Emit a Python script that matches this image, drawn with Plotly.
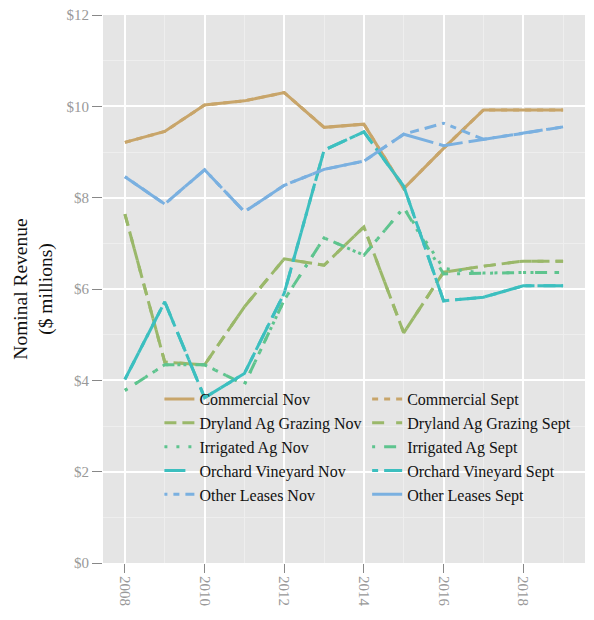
import plotly.graph_objects as go

years = list(range(2008, 2020))

commercial_nov = [9.21, 9.45, 10.03, 10.12, 10.30, 9.54, 9.61, 8.20, 9.08, 9.92, 9.92, 9.92]
commercial_sept = [9.21, 9.45, 10.03, 10.12, 10.30, 9.54, 9.61, 8.20, 9.08, 9.92, 9.92, 9.92]
dryland_nov = [7.64, 4.40, 4.34, 5.61, 6.66, 6.52, 7.36, 5.04, 6.37, 6.50, 6.61, 6.61]
dryland_sept = [7.64, 4.40, 4.34, 5.61, 6.66, 6.52, 7.36, 5.04, 6.37, 6.50, 6.61, 6.61]
irrigated_nov = [3.78, 4.34, 4.34, 3.91, 5.76, 7.12, 6.74, 7.78, 6.45, 6.35, 6.36, 6.36]
irrigated_sept = [3.78, 4.34, 4.34, 3.91, 5.76, 7.12, 6.74, 7.78, 6.33, 6.35, 6.36, 6.36]
orchard_nov = [4.02, 5.72, 3.62, 4.15, 5.91, 9.04, 9.44, 8.25, 5.74, 5.82, 6.07, 6.07]
orchard_sept = [4.02, 5.72, 3.62, 4.15, 5.91, 9.04, 9.44, 8.25, 5.74, 5.82, 6.07, 6.07]
other_nov = [8.46, 7.86, 8.61, 7.69, 8.27, 8.62, 8.80, 9.39, 9.63, 9.28, 9.41, 9.55]
other_sept = [8.46, 7.86, 8.61, 7.69, 8.27, 8.62, 8.80, 9.39, 9.14, 9.28, 9.41, 9.55]

series = [
    ("Commercial Nov", commercial_nov, "#C8A56A", "solid", "legend"),
    ("Commercial Sept", commercial_sept, "#C8A56A", "6px,6px", "legend2"),
    ("Dryland Ag Grazing Nov", dryland_nov, "#9AB86A", "12px,6px", "legend"),
    ("Dryland Ag Grazing Sept", dryland_sept, "#9AB86A", "12px,12px", "legend2"),
    ("Irrigated Ag Nov", irrigated_nov, "#5EC48E", "3px,9px", "legend"),
    ("Irrigated Ag Sept", irrigated_sept, "#5EC48E", "3px,9px,12px,9px", "legend2"),
    ("Orchard Vineyard Nov", orchard_nov, "#3CBFBF", "21px,9px", "legend"),
    ("Orchard Vineyard Sept", orchard_sept, "#3CBFBF", "6px,6px,18px,6px", "legend2"),
    ("Other Leases Nov", other_nov, "#7AB0E0", "3px,6px,6px,6px,9px,6px,12px,6px", "legend"),
    ("Other Leases Sept", other_sept, "#7AB0E0", "45px,6px,24px,6px", "legend2"),
]

fig = go.Figure()
for i, (name, vals, color, dash, leg) in enumerate(series):
    fig.add_trace(go.Scatter(
        x=years, y=vals, mode="lines", name=name,
        line=dict(color=color, width=3, dash=dash),
        legend=leg, legendgroup=f"g{i}",
    ))

font_family = "Liberation Serif"
legend_common = dict(
    bgcolor="rgba(0,0,0,0)", borderwidth=0,
    font=dict(family=font_family, size=16, color="#111111"),
    tracegroupgap=1, yanchor="top", xanchor="left", traceorder="normal",
)
fig.update_layout(
    width=594, height=620,
    margin=dict(l=95, r=17, t=7, b=65),
    paper_bgcolor="white", plot_bgcolor="#E5E5E5",
    font=dict(family=font_family),
    legend=dict(x=0.117, y=0.33, **legend_common),
    legend2=dict(x=0.548, y=0.33, **legend_common),
    showlegend=True,
)
fig.update_xaxes(
    range=[2007.45, 2019.55], tick0=2008, dtick=2, tickangle=90,
    showgrid=True, gridcolor="white", gridwidth=1.5,
    minor=dict(dtick=1, tick0=2009, showgrid=True, gridcolor="#EEEEEE", gridwidth=0.7),
    zeroline=False, showline=False, automargin=False, ticklabeloverflow="allow",
    ticks="outside", ticklen=9, tickwidth=1.2, tickcolor="#888888",
    tickfont=dict(family=font_family, size=15, color="#999999"),
)
fig.update_yaxes(
    range=[0, 12], tick0=0, dtick=2, tickprefix="$",
    showgrid=True, gridcolor="white", gridwidth=1.5,
    minor=dict(dtick=1, showgrid=True, gridcolor="#EEEEEE", gridwidth=0.7),
    zeroline=False, showline=False, automargin=False, ticklabeloverflow="allow",
    ticks="outside", ticklen=10, tickwidth=1.2, tickcolor="#888888",
    tickfont=dict(family=font_family, size=15, color="#999999"),
    title=dict(text="Nominal Revenue<br>($ millions)", font=dict(family=font_family, size=19.5, color="#111111"), standoff=8),
)

fig.write_html("out.html")
